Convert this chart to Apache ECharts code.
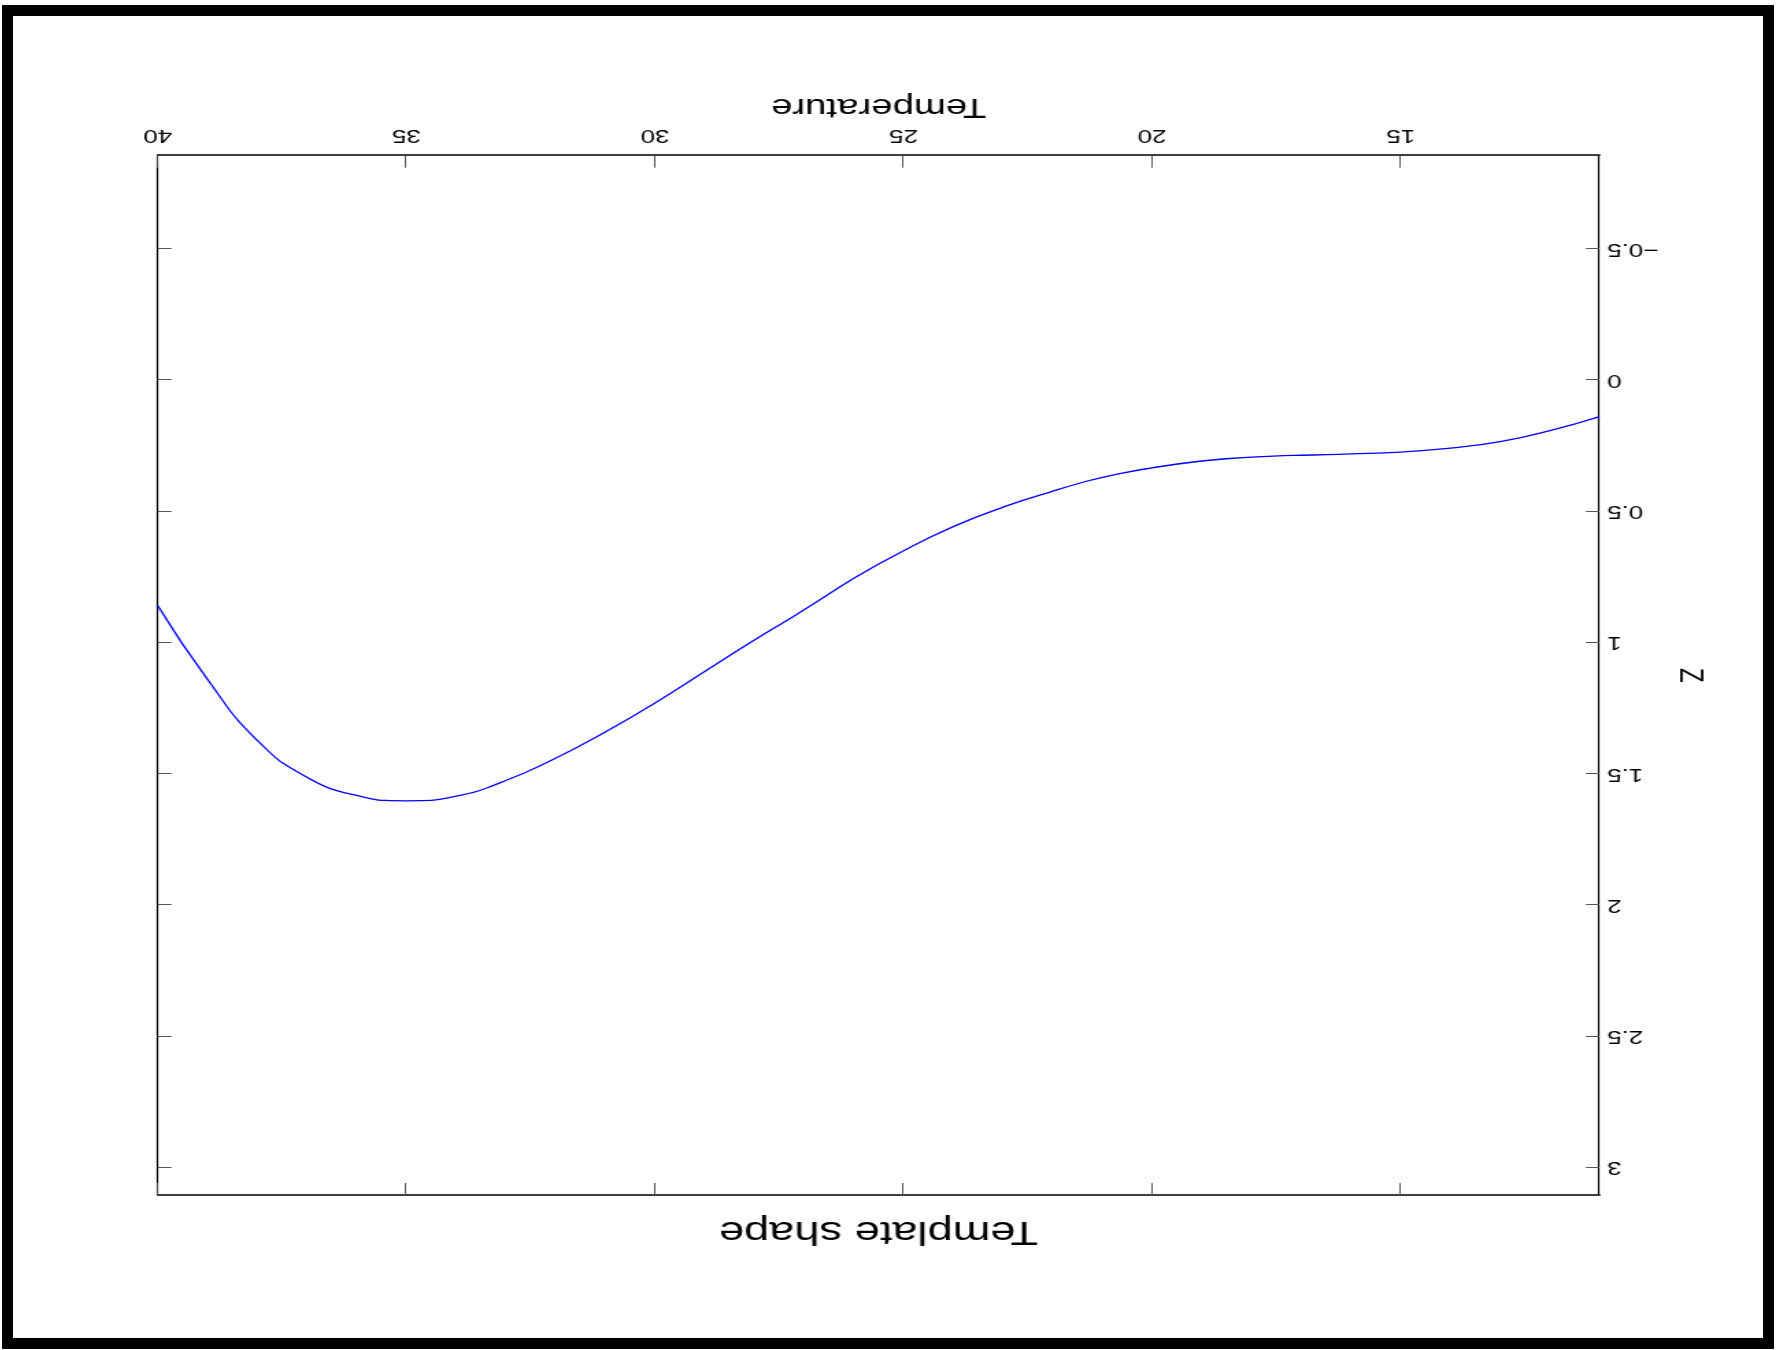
<!DOCTYPE html>
<html>
<head>
<meta charset="utf-8">
<script src="https://cdn.jsdelivr.net/npm/echarts@6/dist/echarts.min.js"></script>
<style>
  html, body { margin: 0; padding: 0; background: #fff; }
  #stage { position: relative; width: 1776px; height: 1350px; overflow: hidden; background: #fff; }
  #chart { position: absolute; top: 0; height: 1350px; transform-origin: 50% 50%; }
  #frame { position: absolute; box-sizing: border-box; border: 11px solid #000; pointer-events: none; }
</style>
</head>
<body>
<div id="stage">
  <div id="chart"></div>
  <div id="frame"></div>
</div>
<script>
// ---- data ----
const temps = [11, 12, 13, 14, 15, 16, 17, 18, 19, 20, 21, 22, 23, 24, 25, 26, 27, 28, 29, 30, 31, 32, 33, 34, 35, 36, 37, 38, 39, 40];
const zvals = [0.139, 0.192, 0.234, 0.259, 0.274, 0.281, 0.286, 0.293, 0.308, 0.334, 0.37, 0.423, 0.484, 0.558, 0.65, 0.755, 0.875, 0.99, 1.11, 1.23, 1.34, 1.44, 1.525, 1.585, 1.603, 1.582, 1.513, 1.372, 1.14, 0.859];
const xTicks = [15, 20, 25, 30, 35, 40];
const yTicks = [-0.5, 0, 0.5, 1, 1.5, 2, 2.5, 3];
const xRange = [11, 40];
const yRange = [-0.855, 3.104];
const titleText = 'Template shape';
const xName = 'Temperature';
const yName = 'Z';

// ---- layout: picture is rotated 180 deg and stretched horizontally ----
const SX = 1.37;
const W0 = 1776 / SX;
const chartDiv = document.getElementById('chart');
chartDiv.style.width = W0 + 'px';
chartDiv.style.left = ((1776 - W0) / 2) + 'px';
chartDiv.style.transform = 'scale(' + (-SX) + ', -1)';

const frame = document.getElementById('frame');
frame.style.left = '2px'; frame.style.top = '5px';
frame.style.width = '1772px'; frame.style.height = '1344px';

// plot box in unrotated picture coordinates
const plotL = 176.5, plotR = 1618.8, plotT = 155, plotB = 1194.3;
const gLeft = plotL / SX;
const gRight = W0 - plotR / SX;
const FONT = '"Liberation Sans", Arial, Helvetica, sans-serif';

const chart = echarts.init(chartDiv, null, { renderer: 'canvas' });
const seriesData = temps.map((t, i) => [t, zvals[i]]);

function xAxisBase(pos, showLabel) {
  return {
    type: 'value', position: pos, min: xRange[0], max: xRange[1],
    axisLine: { show: true, onZero: false, lineStyle: { color: '#000', width: 1.6 } },
    axisTick: { show: true, inside: true, length: 12, customValues: xTicks, lineStyle: { color: '#555', width: 1 } },
    axisLabel: { show: showLabel, customValues: xTicks, margin: 11, fontSize: 19, color: '#000', fontFamily: FONT },
    splitLine: { show: false }
  };
}
function yAxisBase(pos, showLabel) {
  return {
    type: 'value', position: pos, min: yRange[0], max: yRange[1],
    axisLine: { show: true, onZero: false, lineStyle: { color: '#000', width: 1.6 / SX } },
    axisTick: { show: true, inside: true, length: 10, customValues: yTicks, lineStyle: { color: '#555', width: 1 } },
    axisLabel: {
      show: showLabel, customValues: yTicks, margin: 5.5, fontSize: 19, color: '#000', fontFamily: FONT,
      formatter: v => String(v).replace('-', '\u2212')
    },
    splitLine: { show: false }
  };
}

const xMain = Object.assign(xAxisBase('bottom', true), {
  name: xName, nameLocation: 'middle', nameGap: 35,
  nameTextStyle: { fontSize: 28, color: '#000', fontFamily: FONT }
});
const yMain = Object.assign(yAxisBase('left', true), {
  name: yName, nameLocation: 'middle', nameGap: 37, nameRotate: 90,
  nameTextStyle: { fontSize: 24, color: '#000', fontFamily: FONT }
});

chart.setOption({
  animation: false,
  backgroundColor: '#fff',
  grid: { left: gLeft, right: gRight, top: plotT, bottom: 1350 - plotB, containLabel: false },
  xAxis: [xMain, xAxisBase('top', false)],
  yAxis: [yMain, yAxisBase('right', false)],
  graphic: [{
    type: 'text',
    x: ((plotL + plotR) / 2) / SX,
    y: 118.5,
    style: { text: titleText, fontSize: 33, fontFamily: FONT, fill: '#000', align: 'center', verticalAlign: 'middle' }
  }],
  series: [{
    type: 'line', xAxisIndex: 0, yAxisIndex: 0,
    data: seriesData, showSymbol: false, smooth: 0.5,
    lineStyle: { color: '#0000ff', width: 1.3 }
  }]
});
</script>
</body>
</html>
